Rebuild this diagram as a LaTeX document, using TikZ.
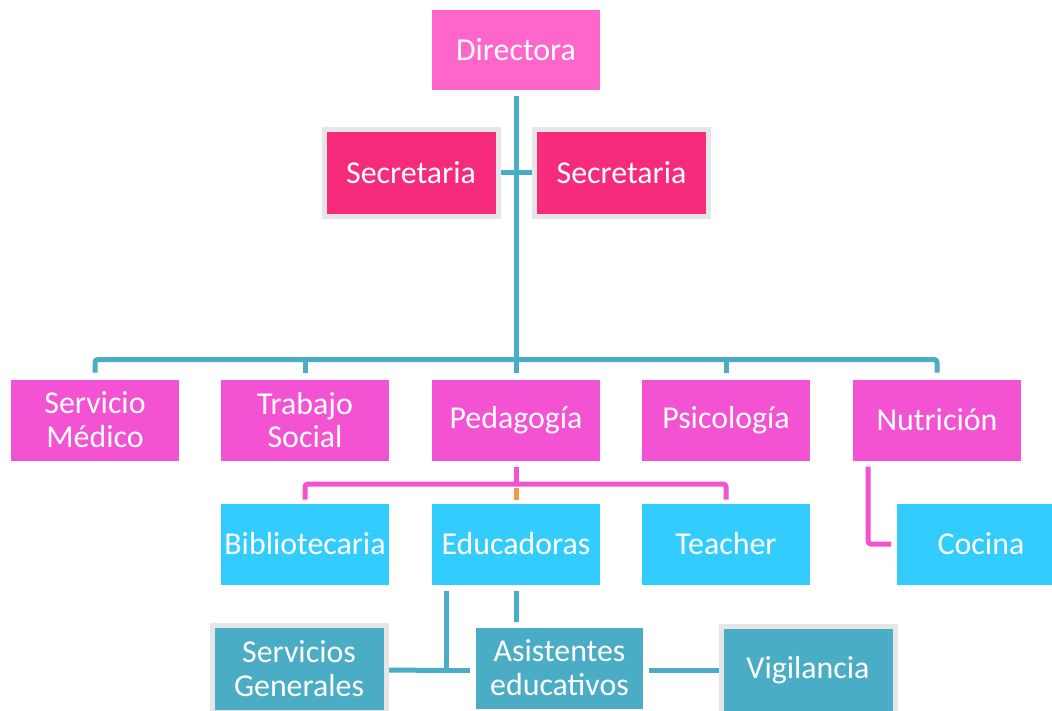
\documentclass[tikz,border=0pt]{standalone}
\usepackage{fontspec}
\setmainfont{Carlito}
\usetikzlibrary{calc,backgrounds}
\definecolor{dirpink}{HTML}{FF66CC}
\definecolor{secpink}{HTML}{F62B7B}
\definecolor{magpink}{HTML}{F352D3}
\definecolor{skyblue}{HTML}{33CCFF}
\definecolor{tealbox}{HTML}{4BACC6}
\definecolor{framegray}{HTML}{E6E6E6}
\definecolor{orangeline}{HTML}{F79646}
\begin{document}
\begin{tikzpicture}[x=1bp,y=-1bp,
  box/.style={rectangle, inner sep=0pt, outer sep=0pt, minimum width=168bp, minimum height=81bp,
    text=white, font=\fontsize{32}{34}\selectfont, align=center},
  framedbox/.style={box, draw=framegray, line width=5bp, minimum width=174bp, minimum height=87bp},
  blueconn/.style={draw=tealbox, line width=5bp},
  pinkconn/.style={draw=magpink, line width=5bp},
  orangeconn/.style={draw=orangeline, line width=5bp}]
\clip (0,0) rectangle (1052,711);

% nodes
\node[box, fill=dirpink, minimum height=80bp] (dir) at (516,50) {Directora};
\node[framedbox, fill=secpink] (secL) at (411,173) {Secretaria};
\node[framedbox, fill=secpink] (secR) at (621.5,173) {Secretaria};

\node[box, fill=magpink] (med) at (95,420) {Servicio\\Médico};
\node[box, fill=magpink] (tra) at (305,420) {Trabajo\\Social};
\node[box, fill=magpink] (ped) at (516,420) {Pedagogía};
\node[box, fill=magpink] (psi) at (726,420) {Psicología};
\node[box, fill=magpink] (nut) at (937,420) {Nutrición};

\node[box, fill=skyblue] (bib) at (305,544) {Bibliotecaria};
\node[box, fill=skyblue] (edu) at (516,544) {Educadoras};
\node[box, fill=skyblue] (tea) at (726,544) {Teacher};
\node[box, fill=skyblue] (coc) at (981,544) {Cocina};

\node[framedbox, fill=tealbox] (sg) at (299,669) {Servicios\\Generales};
\node[box, fill=tealbox, minimum width=167bp] (asi) at (559.5,668) {Asistentes\\educativos};
\node[framedbox, fill=tealbox] (vig) at (808,670) {Vigilancia};

\coordinate (bus) at (516,359.5);
\coordinate (pbus) at (516,484);

% connectors (behind nodes)
\begin{scope}[on background layer]
\fill[white] (0,0) rectangle (1052,711);
\draw[blueconn] ($(dir.south)+(0,6)$) -- ($(ped.north)+(0,-7)$);
\draw[blueconn] ($(secL.east)+(2,0)$) -- ($(secR.west)+(-2,0)$);
\draw[blueconn, rounded corners=3bp] ($(med.north)+(0,-7)$) |- (bus) -| ($(nut.north)+(0,-7)$);
\draw[blueconn] (tra.north |- bus) -- ($(tra.north)+(0,-7)$);
\draw[blueconn] (psi.north |- bus) -- ($(psi.north)+(0,-7)$);

\draw[pinkconn] ($(ped.south)+(0,6)$) -- (pbus);
\draw[pinkconn, rounded corners=3bp] ($(bib.north)+(0,-4)$) |- (pbus) -| ($(tea.north)+(0,-4)$);
\draw[orangeconn] ($(edu.north)+(0,-4)$) -- ($(edu.north)+(0,-16)$);
\draw[pinkconn, rounded corners=3bp] ($(nut.south west)+(15,6)$) |- ($(coc.west)+(-6,0)$);

\draw[blueconn] ($(edu.south west)+(14,6)$) |- ($(asi.west)+(-6,2)$);
\draw[blueconn] ($(sg.east)+(2,1)$) -- ($(edu.south west)+(14,86)$);
\draw[blueconn] ($(edu.south)+(0,6)$) -- ($(edu.south)+(0,37)$);
\draw[blueconn] ($(asi.east)+(6,2)$) -- ($(vig.west)+(-2,0)$);
\end{scope}
\end{tikzpicture}
\end{document}
